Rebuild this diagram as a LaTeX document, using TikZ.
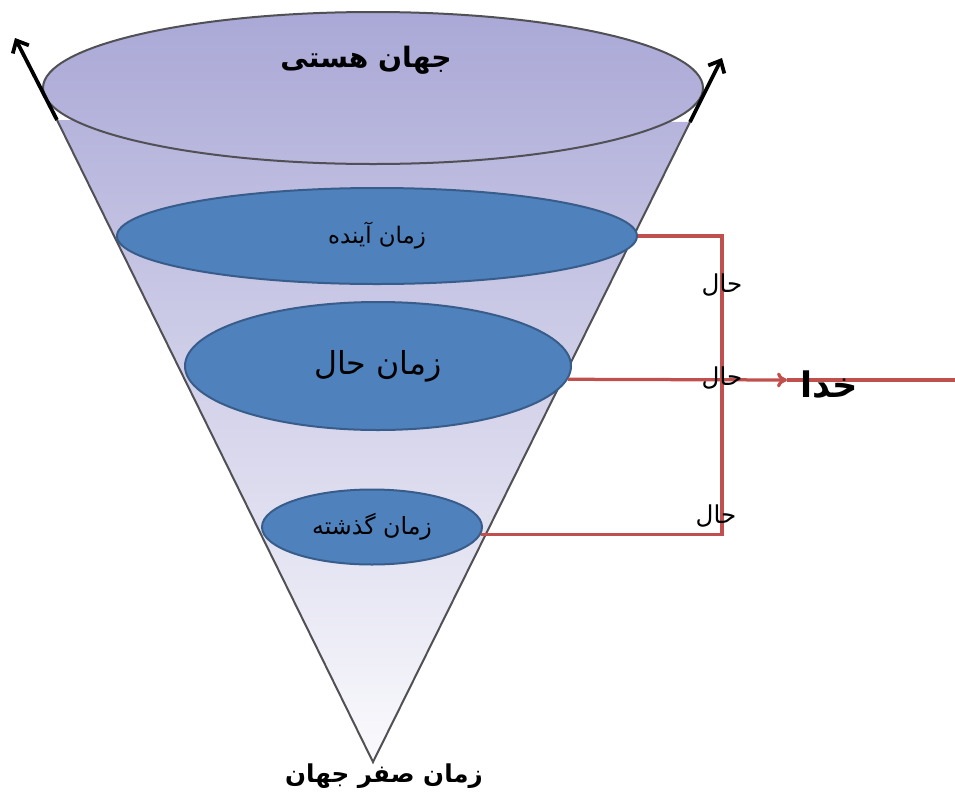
\documentclass[tikz,border=0pt]{standalone}
\usepackage{fontspec}
\newfontfamily\arabicfont[Script=Arabic]{DejaVu Sans}
\TeXXeTstate=1
\usetikzlibrary{shapes.geometric,arrows.meta}
\definecolor{conetop}{RGB}{170,168,214}
\definecolor{conebot}{RGB}{250,250,253}
\definecolor{coneline}{RGB}{80,80,85}
\definecolor{erafill}{RGB}{79,129,189}
\definecolor{eradraw}{RGB}{56,93,138}
\definecolor{linkred}{RGB}{192,80,77}
\newcommand{\rtl}[1]{\beginR#1\endR}
\tikzset{
  era/.style={ellipse,draw=eradraw,fill=erafill,line width=0.4mm,inner sep=0pt,
    font=\arabicfont\fontsize{13}{15}\selectfont},
  link/.style={draw=linkred,line width=0.65mm},
  hal/.style={font=\arabicfont\fontsize{14}{16}\selectfont,inner sep=0pt},
  title/.style={font=\arabicfont\bfseries\fontsize{16}{19}\selectfont,inner sep=0pt},
}
\begin{document}
\begin{tikzpicture}[x=0.2mm,y=-0.2mm]
  \useasboundingbox (0,0) rectangle (955,793);
  % the cone
  \coordinate (apex) at (373,762);
  \coordinate (rimL) at (57,120);
  \coordinate (rimR) at (690,122);
  \coordinate (rim) at (373,88);
  \coordinate (outL) at (15,38);
  \coordinate (outR) at (722,58);
  \shade[top color=conetop,bottom color=conebot]
    (rimR) -- (apex) -- (rimL) -- cycle (rim) ellipse [x radius=330,y radius=76];
  \draw[coneline,line width=0.4mm] (rimL) -- (apex) -- (rimR) (rim) ellipse [x radius=330,y radius=76];
  \draw[line width=0.75mm,-{Straight Barb[length=2mm,width=3.6mm]}] (rimL) -- (outL);
  \draw[line width=0.75mm,-{Straight Barb[length=2mm,width=3.6mm]}] (rimR) -- (outR);
  \node[title] (world) at (366,60) {\rtl{جهان هستی}};
  \node[title,font=\arabicfont\bfseries\fontsize{14}{17}\selectfont] (zero) at (384,776) {\rtl{زمان صفر جهان}};
  % the three times
  \node[era,minimum width=104mm,minimum height=19.2mm] (future) at (377,236) {\rtl{زمان آینده}};
  \node[era,minimum width=77.2mm,minimum height=25.6mm,
    font=\arabicfont\fontsize{18}{21}\selectfont] (present) at (378,366) {\rtl{زمان حال}};
  \node[era,minimum width=44mm,minimum height=15mm,
    font=\arabicfont\fontsize{13.5}{16}\selectfont] (past) at (372,527) {\rtl{زمان گذشته}};
  % links to God
  \coordinate (godtip) at (787,380);
  \coordinate (edge) at (955,380);
  \draw[link] (future.east) -- ++(84,0) |- (past.-4);
  \draw[link,-{To[length=2mm,width=3mm]}] (present.-4) -- (godtip);
  \draw[link] (godtip) -- (edge);
  \node[title,anchor=west,font=\arabicfont\bfseries\fontsize{20}{24}\selectfont] (god) at ([xshift=2.6mm,yshift=-1mm]godtip) {\rtl{خدا}};
  \node[hal] (hal1) at (722,285) {\rtl{حال}};
  \node[hal] (hal2) at (722,378) {\rtl{حال}};
  \node[hal] (hal3) at (716,516) {\rtl{حال}};
\end{tikzpicture}
\end{document}
